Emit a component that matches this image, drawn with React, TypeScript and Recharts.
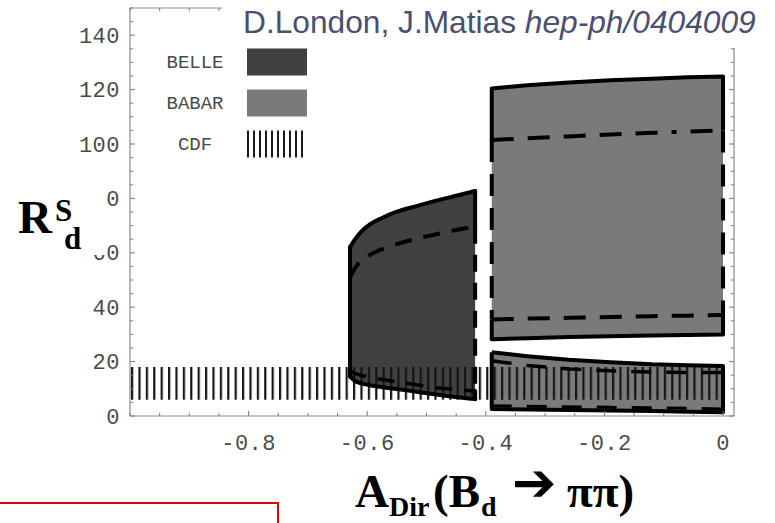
import React from 'react';
import { ComposedChart, Area, Line, XAxis, YAxis, Legend } from 'recharts';

// ticks: minor every 0.05 / 5, labels only on the majors
const X_TICKS = [-1, -0.95, -0.9, -0.85, -0.8, -0.75, -0.7, -0.65, -0.6, -0.55, -0.5, -0.45, -0.4, -0.35, -0.3, -0.25, -0.2, -0.15, -0.1, -0.05, 0];
const X_LABELS = [-0.8, -0.6, -0.4, -0.2, 0];
const Y_TICKS = [0, 5, 10, 15, 20, 25, 30, 35, 40, 45, 50, 55, 60, 65, 70, 75, 80, 85, 90, 95, 100, 105, 110, 115, 120, 125, 130, 135, 140, 145, 150];
const Y_LABELS = [0, 20, 40, 60, 80, 100, 120, 140];

// BELLE allowed region (solid outer, dashed inner)
const BELLE_X = [-0.629, -0.62, -0.61, -0.595, -0.575, -0.55, -0.52, -0.49, -0.455, -0.418];
const BELLE_TOP = [62.1, 65.1, 67.8, 70.5, 72.8, 75.1, 77.0, 78.8, 80.7, 82.7];
const BELLE_MID = [51.0, 54.5, 57.2, 59.3, 61.3, 63.2, 65.0, 66.5, 68.2, 69.6];
const BELLE_LOW = [16.5, 15.6, 15.0, 14.2, 13.4, 12.6, 11.6, 10.6, 9.8, 9.2];
const BELLE_BOTTOM = [14.5, 12.8, 12.0, 11.3, 10.6, 9.9, 9.0, 8.1, 7.1, 6.2];

// BABAR, upper branch
const BABAR_HI_X = [-0.39, -0.33, -0.26, -0.19, -0.12, -0.06, 0];
const BABAR_HI_TOP = [120.4, 121.6, 122.6, 123.4, 124.0, 124.5, 124.8];
const BABAR_HI_DASHDOT = [101.5, 102.1, 102.8, 103.5, 104.1, 104.6, 105.0];
const BABAR_HI_DASH = [35.5, 35.8, 36.1, 36.4, 36.7, 36.9, 37.1];
const BABAR_HI_BOTTOM = [28.2, 28.6, 29.0, 29.3, 29.6, 29.8, 30.0];

// BABAR, lower branch
const BABAR_LO_X = [-0.39, -0.33, -0.26, -0.19, -0.12, -0.06, 0];
const BABAR_LO_TOP = [23.4, 22.0, 20.7, 19.8, 19.0, 18.7, 18.4];
const BABAR_LO_DASH = [20.3, 18.6, 17.3, 16.6, 16.2, 16.0, 16.0];
const BABAR_LO_DASH2 = [3.8, 3.6, 3.4, 3.2, 3.0, 2.8, 2.6];
const BABAR_LO_BOTTOM = [2.6, 2.4, 2.2, 2.0, 1.8, 1.6, 1.4];

// CDF band
const CDF_X = [-1, 0];
const CDF_LOW = [6, 6];
const CDF_HIGH = [18, 18];

const BELLE_FILL = '#414141';
const BABAR_FILL = '#7a7a7a';
const TICK_COLOR = '#7a7a7a';
const LABEL_COLOR = '#4a4a4a';
const AXIS = { stroke: '#8c8c8c', strokeWidth: 1.2 };

const LEGEND_ITEMS = [
  { name: 'BELLE', fill: BELLE_FILL },
  { name: 'BABAR', fill: BABAR_FILL },
  { name: 'CDF', fill: 'url(#legendHatch)' },
];

const band = (xs: number[], lo: number[], hi: number[]) => xs.map((x, i) => ({ x, range: [lo[i], hi[i]] }));
const pts = (xs: number[], ys: number[]) => xs.map((x, i) => ({ x, y: ys[i] }));
const at = (xs: number[], ys: number[], i: number) => ({ x: xs[i], y: ys[i] });

// BELLE edges: left solid, right solid / dashed / solid
const bn = BELLE_X.length - 1;
const belleLeft = [at(BELLE_X, BELLE_BOTTOM, 0), at(BELLE_X, BELLE_TOP, 0)];
const belleRightTop = [at(BELLE_X, BELLE_TOP, bn), at(BELLE_X, BELLE_MID, bn)];
const belleRightMid = [at(BELLE_X, BELLE_MID, bn), at(BELLE_X, BELLE_LOW, bn)];
const belleRightLow = [at(BELLE_X, BELLE_LOW, bn), at(BELLE_X, BELLE_BOTTOM, bn)];

const hn = BABAR_HI_X.length - 1;
const hiSolidTop = [at(BABAR_HI_X, BABAR_HI_DASHDOT, 0), ...pts(BABAR_HI_X, BABAR_HI_TOP), at(BABAR_HI_X, BABAR_HI_DASHDOT, hn)];
const hiSolidBottom = [at(BABAR_HI_X, BABAR_HI_DASH, hn), ...pts(BABAR_HI_X, BABAR_HI_BOTTOM).reverse(), at(BABAR_HI_X, BABAR_HI_DASH, 0)];
const hiEdgeLeft = [at(BABAR_HI_X, BABAR_HI_DASHDOT, 0), at(BABAR_HI_X, BABAR_HI_DASH, 0)];
const hiEdgeRight = [at(BABAR_HI_X, BABAR_HI_DASHDOT, hn), at(BABAR_HI_X, BABAR_HI_DASH, hn)];

const loOutline = [...pts(BABAR_LO_X, BABAR_LO_TOP), ...pts(BABAR_LO_X, BABAR_LO_BOTTOM).reverse(), at(BABAR_LO_X, BABAR_LO_TOP, 0)];

const monoFont = '"Liberation Mono", "DejaVu Sans Mono", monospace';

const LeftTick = (p: any) => {
  const major = Y_LABELS.includes(p.payload.value);
  return (
    <g>
      <line x1={p.x} x2={p.x + (major ? 5 : 3)} y1={p.y} y2={p.y} stroke={TICK_COLOR} strokeWidth={1} />
      {major && (
        <text x={p.x - 10} y={p.y + 7.5} textAnchor="end" fontFamily={monoFont} fontSize={22} letterSpacing={0.5} fill={LABEL_COLOR}>
          {p.payload.value}
        </text>
      )}
    </g>
  );
};

const RightTick = (p: any) => {
  const major = Y_LABELS.includes(p.payload.value);
  return <line x1={p.x} x2={p.x - (major ? 5 : 3)} y1={p.y} y2={p.y} stroke={TICK_COLOR} strokeWidth={1} />;
};

const BottomTick = (p: any) => {
  const major = X_LABELS.includes(p.payload.value);
  return (
    <g>
      <line x1={p.x} x2={p.x} y1={p.y} y2={p.y - (major ? 5 : 3)} stroke={TICK_COLOR} strokeWidth={1} />
      {major && (
        <text x={p.x} y={p.y + 34} textAnchor="middle" fontFamily={monoFont} fontSize={22} letterSpacing={0.5} fill={LABEL_COLOR}>
          {String(p.payload.value)}
        </text>
      )}
    </g>
  );
};

const TopTick = (p: any) => {
  const major = X_LABELS.includes(p.payload.value);
  return <line x1={p.x} x2={p.x} y1={p.y} y2={p.y + (major ? 5 : 3)} stroke={TICK_COLOR} strokeWidth={1} />;
};

const LegendBox = () => (
  <svg width={170} height={120}>
    <defs>
      <pattern id="legendHatch" patternUnits="userSpaceOnUse" x={97} width={6} height={10}>
        <rect x={0} y={0} width={2} height={10} fill="#1a1a1a" />
      </pattern>
    </defs>
    {LEGEND_ITEMS.map((item, i) => {
      const cy = 18 + i * 41;
      return (
        <g key={item.name}>
          <text x={45} y={cy + 6} textAnchor="middle" fontFamily={monoFont} fontSize={19} fill={LABEL_COLOR}>
            {item.name}
          </text>
          <rect x={97} y={cy - 13.5} width={60} height={27} fill={item.fill} />
        </g>
      );
    })}
  </svg>
);

const lineProps = { dataKey: 'y', dot: false, activeDot: false, isAnimationActive: false, type: 'linear' as const, legendType: 'none' as const, stroke: '#000' };
const areaProps = { dataKey: 'range', stroke: 'none', fillOpacity: 1, dot: false, activeDot: false, isAnimationActive: false, type: 'linear' as const, legendType: 'none' as const };

export default function App() {
  return (
    <div style={{ position: 'absolute', left: 0, top: 0, width: 775, height: 523, background: '#fff' }}>
      <ComposedChart width={775} height={523} margin={{ top: 0, right: 0, bottom: 0, left: 0 }}>
        <defs>
          <pattern id="cdfHatch" patternUnits="userSpaceOnUse" x={131} y={0} width={7.4} height={10}>
            <rect x={0} y={0} width={2.2} height={10} fill="#151515" />
          </pattern>
        </defs>
        <XAxis dataKey="x" type="number" domain={[-1, 0.0185]} allowDataOverflow ticks={X_TICKS} interval={0}
          height={107} tickSize={0} tickMargin={0} tickLine={false} axisLine={AXIS} tick={(p: any) => <BottomTick {...p} />} />
        <XAxis xAxisId="top" orientation="top" dataKey="x" type="number" domain={[-1, 0.0185]} allowDataOverflow ticks={X_TICKS} interval={0}
          height={8} tickSize={0} tickMargin={0} tickLine={false} axisLine={AXIS} tick={(p: any) => <TopTick {...p} />} />
        <YAxis type="number" domain={[0, 150]} allowDataOverflow ticks={Y_TICKS} interval={0}
          width={130} tickSize={0} tickMargin={0} tickLine={false} axisLine={AXIS} tick={(p: any) => <LeftTick {...p} />} />
        <YAxis yAxisId="right" orientation="right" type="number" domain={[0, 150]} allowDataOverflow ticks={Y_TICKS} interval={0}
          width={41} tickSize={0} tickMargin={0} tickLine={false} axisLine={AXIS} tick={(p: any) => <RightTick {...p} />} />
        <Legend layout="vertical" align="center" verticalAlign="middle"
          wrapperStyle={{ left: 150, top: 44, width: 170, height: 120 }} content={() => <LegendBox />} />

        {/* fills */}
        <Area {...areaProps} type="monotoneX" data={band(BELLE_X, BELLE_BOTTOM, BELLE_TOP)} fill={BELLE_FILL} />
        <Area {...areaProps} data={band(BABAR_HI_X, BABAR_HI_BOTTOM, BABAR_HI_TOP)} fill={BABAR_FILL} />
        <Area {...areaProps} data={band(BABAR_LO_X, BABAR_LO_BOTTOM, BABAR_LO_TOP)} fill={BABAR_FILL} />
        <Area {...areaProps} data={band(CDF_X, CDF_LOW, CDF_HIGH)} fill="url(#cdfHatch)" />

        {/* BELLE outlines */}
        <Line {...lineProps} type="monotoneX" data={pts(BELLE_X, BELLE_TOP)} strokeWidth={4} strokeLinecap="round" />
        <Line {...lineProps} type="monotoneX" data={pts(BELLE_X, BELLE_BOTTOM)} strokeWidth={4} strokeLinecap="round" />
        <Line {...lineProps} data={belleLeft} strokeWidth={4} strokeLinecap="round" />
        <Line {...lineProps} data={belleRightTop} strokeWidth={4} strokeLinecap="round" />
        <Line {...lineProps} data={belleRightMid} strokeWidth={4} strokeDasharray="17 11" />
        <Line {...lineProps} data={belleRightLow} strokeWidth={4} strokeLinecap="round" />
        <Line {...lineProps} type="monotoneX" data={pts(BELLE_X, BELLE_MID)} strokeWidth={4} strokeDasharray="17 12" />
        <Line {...lineProps} type="monotoneX" data={pts(BELLE_X, BELLE_LOW)} strokeWidth={3.5} strokeDasharray="17 12" />

        {/* BABAR upper outlines */}
        <Line {...lineProps} data={hiSolidTop} strokeWidth={4} strokeLinejoin="round" />
        <Line {...lineProps} data={hiSolidBottom} strokeWidth={4} strokeLinejoin="round" />
        <Line {...lineProps} data={hiEdgeLeft} strokeWidth={4} strokeDasharray="22 12" />
        <Line {...lineProps} data={hiEdgeRight} strokeWidth={4} strokeDasharray="22 12" />
        <Line {...lineProps} data={pts(BABAR_HI_X, BABAR_HI_DASHDOT)} strokeWidth={4} strokeDasharray="22 14 22 14 22 14 22 14 22 14 5 14" />
        <Line {...lineProps} data={pts(BABAR_HI_X, BABAR_HI_DASH)} strokeWidth={4} strokeDasharray="22 14" />

        {/* BABAR lower outlines */}
        <Line {...lineProps} data={loOutline} strokeWidth={4} strokeLinejoin="round" />
        <Line {...lineProps} data={pts(BABAR_LO_X, BABAR_LO_DASH)} strokeWidth={3.5} strokeDasharray="20 15" />
        <Line {...lineProps} data={pts(BABAR_LO_X, BABAR_LO_DASH2)} strokeWidth={3} strokeDasharray="20 15" />
      </ComposedChart>

      <svg width={775} height={523} style={{ position: 'absolute', left: 0, top: 0, pointerEvents: 'none' }}>
        <rect x={222} y={0} width={553} height={48} fill="#fff" />
        <text x={243} y={33} fontFamily='"Liberation Sans", Arial, sans-serif' fontSize={31.7} fill="#4b4f70">
          D.London, J.Matias <tspan fontStyle="italic">hep-ph/0404009</tspan>
        </text>

        <rect x={0} y={180} width={105} height={75} fill="#fff" />
        <g fontFamily='"Liberation Serif", "Times New Roman", serif' fontWeight="bold" fill="#000">
          <text x={18} y={233} fontSize={47}>
            R<tspan x={55} y={221} fontSize={31}>S</tspan><tspan x={64} y={249} fontSize={31}>d</tspan>
          </text>

          <text x={355} y={507} fontSize={47}>
            A<tspan x={389} y={516} fontSize={28}>Dir</tspan>
            <tspan x={433} y={507}>(B</tspan>
            <tspan x={481} y={516} fontSize={28}>d</tspan>
            <tspan x={512} y={501} fontSize={53} fontFamily='"DejaVu Sans", sans-serif'>➔</tspan>
            <tspan x={567} y={507}>ππ)</tspan>
          </text>
        </g>

        <path d="M0 503 H278 V523" fill="none" stroke="#e30000" strokeWidth={2} />
      </svg>
    </div>
  );
}
